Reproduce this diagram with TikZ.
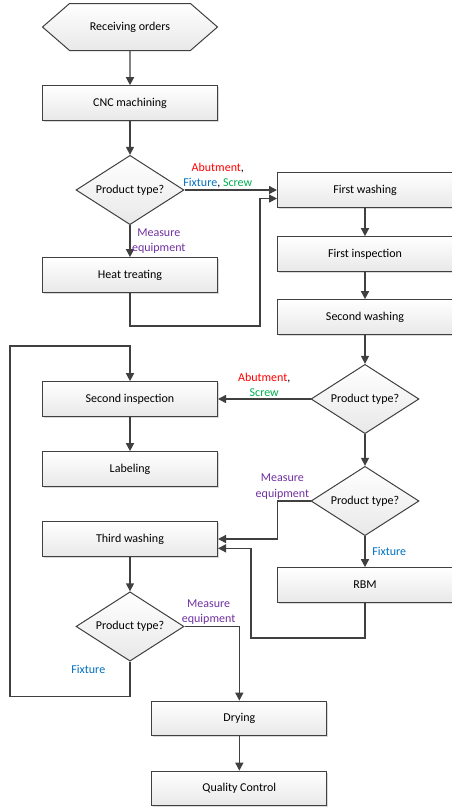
\documentclass[tikz,border=0pt]{standalone}
\usepackage{fontspec}
\setmainfont{Carlito}
\usetikzlibrary{positioning, arrows.meta, shapes.geometric, shapes.symbols, shadows}

\definecolor{linegray}{RGB}{64,64,64}
\definecolor{abutred}{RGB}{255,0,0}
\definecolor{fixblue}{RGB}{0,112,192}
\definecolor{screwgreen}{RGB}{0,176,80}
\definecolor{measpurple}{RGB}{112,48,160}

\begin{document}
\begin{tikzpicture}[node distance=57pt, font=\fontsize{9pt}{11.5pt}\selectfont,
    >={Triangle[length=6pt, width=6pt]},
    process/.style={rectangle, draw=linegray, line width=0.75pt, top color=white, bottom color=black!9,
        minimum width=131.25pt, minimum height=26pt,
        drop shadow={shadow xshift=1.2pt, shadow yshift=-1.2pt, opacity=0.3}},
    decision/.style={diamond, aspect=1.56, inner sep=0pt, draw=linegray, line width=0.75pt,
        top color=white, bottom color=black!9, minimum width=81pt, minimum height=52pt},
    startbox/.style={signal, signal to=west and east, signal pointer angle=82, draw=linegray,
        line width=0.75pt, top color=white, bottom color=black!9, minimum width=131.25pt, minimum height=35.25pt},
    flow/.style={->, draw=linegray, line width=1.1pt},
    lbl/.style={align=center, inner sep=1pt}]
    \useasboundingbox (-97.5pt,20.25pt) rectangle (241.5pt,-585pt);

    % Nodes
    \node (rec) [startbox] {Receiving orders};
    \node (cnc) [process, below of=rec] {CNC machining};
    \node (dec1) [decision, below of=cnc, node distance=65.25pt] {Product type?};
    \node (heat) [process, below of=dec1, node distance=63.75pt] {Heat treating};
    \node (fwash) [process, right of=dec1, node distance=176.25pt] {First washing};
    \node (finsp) [process, below of=fwash, node distance=48pt] {First inspection};
    \node (swash) [process, below of=finsp, node distance=47.25pt] {Second washing};
    \node (dec2) [decision, below of=swash, node distance=61.5pt] {Product type?};
    \node (sinsp) [process, left of=dec2, node distance=176.25pt] {Second inspection};
    \node (lab) [process, below of=sinsp, node distance=52.5pt] {Labeling};
    \node (twash) [process, below of=lab, node distance=52.5pt] {Third washing};
    \node (dec3) [decision, below of=dec2, node distance=76.5pt] {Product type?};
    \node (rbm) [process, below of=dec3, node distance=63pt] {RBM};
    \node (dec4) [decision, below of=twash, node distance=65.6pt] {Product type?};
    \node (dry) [process, below of=dec4, node distance=69pt, xshift=82pt] {Drying};
    \node (qc) [process, below of=dry, node distance=52.5pt] {Quality Control};

    % Arrows
    \draw[flow] (rec) -- (cnc);
    \draw[flow] (cnc) -- (dec1);
    \draw[flow] (dec1.east) -- (fwash.west) node[pos=0.36, above, lbl] {\textcolor{abutred}{Abutment},\\\textcolor{fixblue}{Fixture}, \textcolor{screwgreen}{Screw}};
    \draw[flow] (dec1) -- (heat) node[midway, right, lbl, text=measpurple] {Measure\\equipment};
    \draw[flow] (heat.south) -- ++(0,-24.75pt) -| ([xshift=-12.75pt, yshift=-6.4pt]fwash.west) -- ([yshift=-6.4pt]fwash.west);
    \draw[flow] (fwash) -- (finsp);
    \draw[flow] (finsp) -- (swash);
    \draw[flow] (swash) -- (dec2);
    \draw[flow] (dec2.west) -- (sinsp.east) node[midway, above, lbl] {\textcolor{abutred}{Abutment},\\\textcolor{screwgreen}{Screw}};
    \draw[flow] (sinsp) -- (lab);
    \draw[flow] (dec2) -- (dec3);
    \draw[flow] (dec3.west) -- node[pos=0.85, above, lbl, text=measpurple] {Measure\\equipment} ++(-24.75pt,0) |- (twash.east);
    \draw[flow] (dec3) -- (rbm) node[midway, right=4pt, lbl, text=fixblue] {Fixture};
    \draw[flow] (rbm.south) -- ++(0,-26.25pt) -| ([xshift=24.75pt, yshift=-7pt]twash.east) -- ([yshift=-7pt]twash.east);
    \draw[flow] (twash) -- (dec4);
    \draw[flow] (dec4.east) -| (dry.north) node[pos=0.22, above, lbl, text=measpurple] {Measure\\equipment};
    \draw[flow] (dec4.south) -- node[pos=0.23, left=17pt, lbl, text=fixblue] {Fixture} ++(0,-26.25pt) -| ([xshift=-90pt, yshift=26.25pt]sinsp.north) -| (sinsp.north);
    \draw[flow] (dry) -- (qc);

\end{tikzpicture}
\end{document}
